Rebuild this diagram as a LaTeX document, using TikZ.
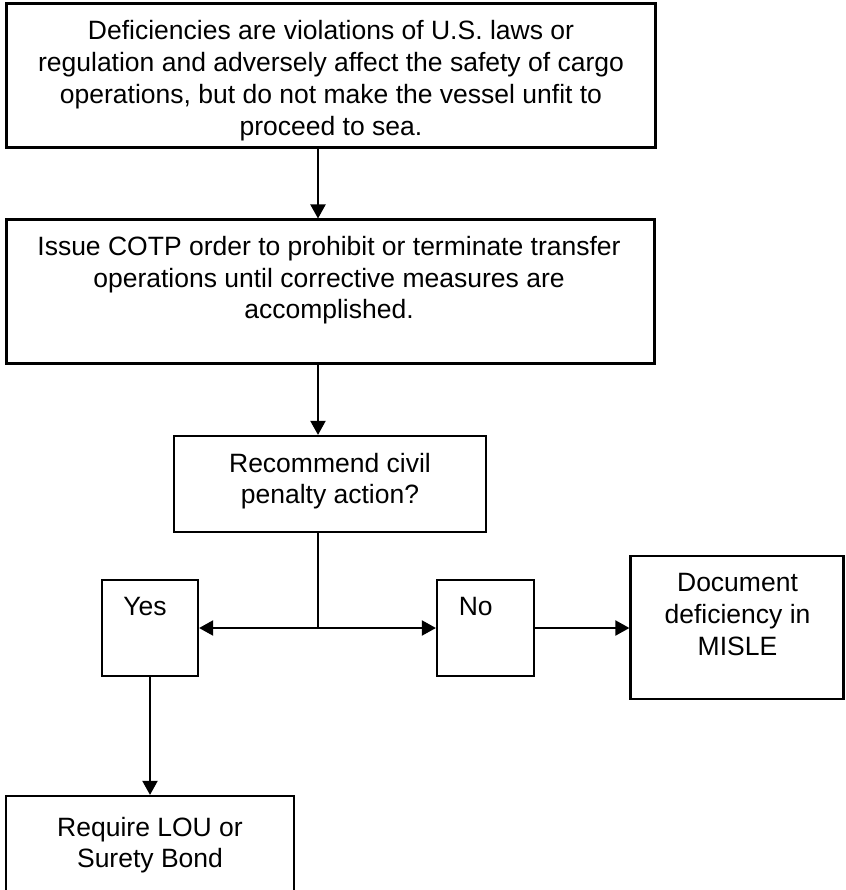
\documentclass[tikz,border=0pt]{standalone}
\usepackage{fontspec}
\setmainfont{Liberation Sans}
\usetikzlibrary{arrows.meta,calc}
\begin{document}
\begin{tikzpicture}[x=1pt,y=-1pt]
\tikzset{
  boxthick/.style={draw, line width=3pt, inner sep=0pt},
  boxthin/.style={draw, line width=2.2pt, inner sep=0pt},
  txt/.style={font=\fontsize{26.5}{31.7}\selectfont, align=center, inner sep=0pt, anchor=north},
  arr/.style={line width=2pt, -{Triangle[length=14pt,width=15pt]}},
  conn/.style={line width=2pt},
}
\fill[white] (0,0) rectangle (845,890);
\useasboundingbox (0,0) rectangle (845,890);
% boxes
\node[boxthick, minimum width=649pt, minimum height=144pt] (b1) at (330.5,76) {};
\node[boxthick, minimum width=648pt, minimum height=143pt] (b2) at (330,291.5) {};
\node[boxthin, minimum width=312pt, minimum height=96pt] (b3) at (330,484) {};
\node[boxthin, minimum width=96pt, minimum height=96pt] (yes) at (150,628) {};
\node[boxthin, minimum width=97pt, minimum height=96pt] (no) at (485.5,628) {};
\node[boxthin, minimum width=213pt, minimum height=143pt] (doc) at (737,627.5) {};
\node[boxthin, minimum width=288pt, minimum height=104pt] (req) at (150,848) {};
% texts
\node[txt] (t1) at (331,20.5) {Deficiencies are violations of U.S. laws or\\regulation and adversely affect the safety of cargo\\operations, but do not make the vessel unfit to\\proceed to sea.};
\node[txt] (t2) at (329,236) {Issue COTP order to prohibit or terminate transfer\\operations until corrective measures are\\accomplished.};
\node[txt] (t3) at (330,452.7) {Recommend civil\\penalty action?};
\node[txt] (tyes) at (145,596.7) {Yes};
\node[txt] (tno) at (475.7,596.7) {No};
\node[txt] (tdoc) at (737.5,573.3) {Document\\deficiency in\\MISLE};
\node[txt] (treq) at (150,816.7) {Require LOU or\\Surety Bond};
% connectors
\coordinate (tx) at (318,0);
\coordinate (j) at (318,628);
\draw[arr] (b1.south -| tx) -- (b2.north -| tx);
\draw[arr] (b2.south -| tx) -- (b3.north -| tx);
\draw[conn] (b3.south -| tx) -- (j);
\draw[arr] (j) -- (yes.east);
\draw[arr] (j) -- (no.west);
\draw[arr] (no.east) -- (no.east -| doc.west);
\draw[arr] (yes.south) -- (req.north);
\end{tikzpicture}
\end{document}
